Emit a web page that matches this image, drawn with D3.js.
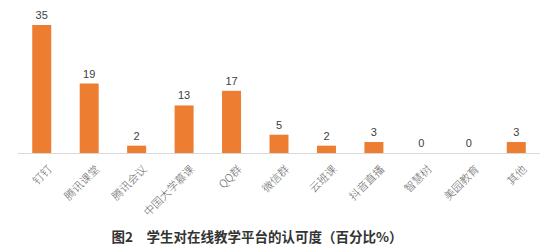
<!DOCTYPE html>
<html>
<head>
<meta charset="utf-8">
<script src="https://cdn.jsdelivr.net/npm/d3@7"></script>
<style>
  body { margin: 0; background: #fff; }
  text { font-family: "Noto Sans CJK SC", "Noto Sans", sans-serif; }
</style>
</head>
<body>
<div id="chart"></div>
<script>
var categories = ["钉钉", "腾讯课堂", "腾讯会议", "中国大学慕课", "QQ群", "微信群", "云班课", "抖音直播", "智慧树", "美园教育", "其他"];
var values = [35, 19, 2, 13, 17, 5, 2, 3, 0, 0, 3];
var title = "图2\u2003学生对在线教学平台的认可度（百分比%）";

var width = 546, height = 250;
var baseY = 153;

var svg = d3.select("#chart")
    .append("svg")
    .attr("width", width)
    .attr("height", height);

svg.append("rect")
    .attr("width", "100%")
    .attr("height", "100%")
    .attr("fill", "white");

var x = d3.scaleBand()
    .domain(categories)
    .range([18, 540])
    .paddingInner(0.6)
    .paddingOuter(0.3);

var y = d3.scaleLinear()
    .domain([0, 35])
    .range([baseY, 25]);

svg.selectAll("rect.bar")
    .data(values)
    .enter()
    .append("rect")
    .attr("class", "bar")
    .attr("x", function(d, i) { return x(categories[i]); })
    .attr("y", function(d) { return y(d); })
    .attr("width", x.bandwidth())
    .attr("height", function(d) { return baseY - y(d); })
    .attr("fill", "#ed7d31");

svg.append("line")
    .attr("x1", 18)
    .attr("x2", 540)
    .attr("y1", baseY + 0.5)
    .attr("y2", baseY + 0.5)
    .attr("stroke", "#d9d9d9")
    .attr("stroke-width", 1);

svg.selectAll("text.val")
    .data(values)
    .enter()
    .append("text")
    .attr("class", "val")
    .attr("x", function(d, i) { return x(categories[i]) + x.bandwidth() / 2; })
    .attr("y", function(d) { return y(d) - 6; })
    .attr("text-anchor", "middle")
    .attr("font-size", 11)
    .attr("fill", "#404040")
    .style("font-family", "'Liberation Sans', Arial, sans-serif")
    .text(function(d) { return d; });

svg.selectAll("text.cat")
    .data(categories)
    .enter()
    .append("text")
    .attr("class", "cat")
    .attr("text-anchor", "end")
    .attr("font-size", 11)
    .attr("font-weight", 300)
    .attr("fill", "#6a6a6a")
    .attr("transform", function(d) {
        return "translate(" + (x(d) + x.bandwidth() / 2 + 11) + "," + (baseY + 17) + ") rotate(-45)";
    })
    .text(function(d) { return d; });

svg.append("text")
    .attr("x", 257)
    .attr("y", 242)
    .attr("text-anchor", "middle")
    .attr("font-size", 13.5)
    .attr("font-weight", "bold")
    .attr("fill", "#333")
    .text(title);
</script>
</body>
</html>
